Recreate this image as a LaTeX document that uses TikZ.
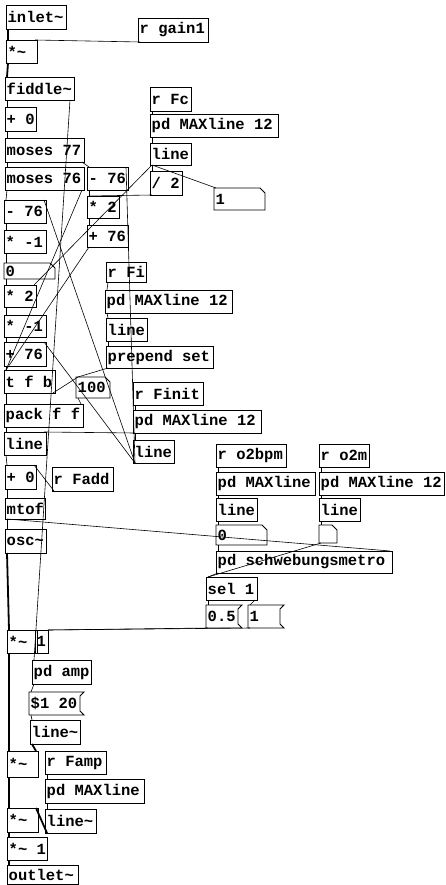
\documentclass[tikz,border=0pt]{standalone}
\usepackage{fontspec}
\newfontfamily\pdfont{Liberation Mono}
\tikzset{
  pdbox/.style={draw, line width=0.9pt, inner sep=0pt, outer sep=0pt, anchor=north west},
  pdtext/.style={anchor=west, inner sep=1.5pt, font=\pdfont\bfseries\fontsize{15.5}{16}\selectfont},
  boxline/.style={line width=0.9pt},
  wire/.style={line width=0.6pt},
  sig/.style={line width=1.8pt},
}
% object box: name, x1, y1, x2, y2, text
\newcommand\pdobj[6]{%
  \node[pdbox, minimum width={(#4-#2)*1pt}, minimum height={(#5-#3)*1pt}] (#1) at (#2,#3) {};
  \node[pdtext] at (#1.west) {#6};}
% message box (flag on the right)
\newcommand\pdmsg[6]{%
  \node[pdbox, draw=none, minimum width={(#4-#2)*1pt}, minimum height={(#5-#3)*1pt}] (#1) at (#2,#3) {};
  \draw[boxline] (#1.north west) -- ([xshift=4pt]#1.north east) -- ([yshift=-4pt]#1.north east)
    -- ([yshift=4pt]#1.south east) -- ([xshift=4pt]#1.south east) -- (#1.south west) -- cycle;
  \node[pdtext] at (#1.west) {#6};}
% number box (notched corner)
\newcommand\pdnum[6]{%
  \node[pdbox, draw=none, minimum width={(#4-#2)*1pt}, minimum height={(#5-#3)*1pt}] (#1) at (#2,#3) {};
  \draw[boxline] (#1.north west) -- ([xshift=-5pt]#1.north east) -- ([yshift=-5pt]#1.north east)
    -- (#1.south east) -- (#1.south west) -- cycle;
  \node[pdtext] at (#1.west) {#6};}
\begin{document}
\begin{tikzpicture}[x=1pt, y=-1pt]
  \useasboundingbox (0,0) rectangle (446,885);
  % input and pitch tracking
  \pdobj{inl}{6}{5}{66}{29}{inlet\textasciitilde}
  \pdobj{gain}{138}{18}{208}{42}{r gain1}
  \pdobj{mul1}{6}{40}{37}{63}{*\textasciitilde}
  \pdobj{fid}{5}{77}{74}{100}{fiddle\textasciitilde}
  \pdobj{add0}{5}{107}{36}{131}{+ 0}
  \pdobj{mos77}{5}{138}{84}{162}{moses 77}
  \pdobj{mos76}{5}{167}{84}{190}{moses 76}
  \pdobj{subR}{87}{167}{128}{190}{- 76}
  \pdobj{mulR}{87}{196}{119}{218}{* 2}
  \pdobj{addR}{87}{225}{128}{247}{+ 76}
  % left column
  \pdobj{subL}{4}{200}{46}{223}{- 76}
  \pdobj{negA}{4}{230}{46}{253}{* -1}
  \pdnum{numzero}{4}{263}{55}{279}{0}
  \pdobj{mulL}{4}{285}{36}{307}{* 2}
  \pdobj{negB}{4}{315}{46}{337}{* -1}
  \pdobj{addL}{4}{342}{46}{366}{+ 76}
  \pdobj{tfb}{4}{370}{55}{393}{t f b}
  \pdnum{num100}{76}{377}{110}{398}{100}
  \pdobj{pack}{4}{404}{83}{427}{pack f f}
  \pdobj{lnL}{4}{432}{46}{455}{line}
  \pdobj{addF}{5}{465}{36}{489}{+ 0}
  \pdobj{rfadd}{52}{467}{113}{491}{r Fadd}
  \pdobj{mtof}{5}{498}{45}{519}{mtof}
  \pdobj{osc}{5}{529}{46}{553}{osc\textasciitilde}
  % receivers with MAXline
  \pdobj{rfc}{150}{87}{191}{111}{r Fc}
  \pdobj{mlfc}{150}{114}{278}{137}{pd MAXline 12}
  \pdobj{lnfc}{150}{143}{191}{165}{line}
  \pdobj{div}{150}{171}{182}{195}{/ 2}
  \pdnum{numone}{214}{188}{265}{210}{1}
  \pdobj{rfi}{106}{262}{146}{282}{r Fi}
  \pdobj{mlfi}{105}{290}{232}{313}{pd MAXline 12}
  \pdobj{lnfi}{106}{318}{147}{341}{line}
  \pdobj{prep}{106}{346}{213}{368}{prepend set}
  \pdobj{rfin}{133}{382}{203}{405}{r Finit}
  \pdobj{mlfin}{133}{410}{261}{433}{pd MAXline 12}
  \pdobj{lnfin}{133}{440}{174}{463}{line}
  % beat metronome
  \pdobj{rbpm}{216}{444}{286}{467}{r o2bpm}
  \pdobj{ro2m}{319}{444}{369}{467}{r o2m}
  \pdobj{mlbpm}{216}{472}{315}{495}{pd MAXline}
  \pdobj{mlo2m}{319}{472}{444}{495}{pd MAXline 12}
  \pdobj{lnbpm}{216}{498}{257}{521}{line}
  \pdobj{lno2m}{319}{498}{360}{521}{line}
  \pdnum{numbpm}{216}{525}{267}{545}{0}
  \pdnum{numo2m}{319}{525}{337}{543}{}
  \pdobj{schw}{216}{551}{392}{573}{pd schwebungsmetro}
  \pdobj{sel}{206}{577}{257}{600}{sel 1}
  \pdmsg{mhalf}{206}{605}{238}{628}{0.5}
  \pdmsg{mone}{248}{605}{280}{628}{1}
  % amplitude chain
  \pdobj{mulA}{7}{630}{37}{653}{*\textasciitilde}
  \pdobj{one}{35}{630}{48}{653}{1}
  \pdobj{amp}{32}{660}{91}{684}{pd amp}
  \pdmsg{msgamp}{29}{692}{80}{715}{\$1 20}
  \pdobj{lnamp}{30}{720}{80}{744}{line\textasciitilde}
  \pdobj{mulB}{7}{751}{38}{777}{*\textasciitilde}
  \pdobj{rfamp}{45}{751}{106}{774}{r Famp}
  \pdobj{mlamp}{45}{779}{144}{803}{pd MAXline}
  \pdobj{mulC}{7}{808}{38}{832}{*\textasciitilde}
  \pdobj{lnsig}{45}{809}{96}{833}{line\textasciitilde}
  \pdobj{mulD}{7}{837}{47}{860}{*\textasciitilde{} 1}
  \pdobj{outl}{7}{865}{78}{884}{outlet\textasciitilde}
  % straight control connections, left outlet to left inlet
  \foreach \a/\b in {fid/add0, add0/mos77, mos77/mos76, mos76/subL, subL/negA, negA/numzero,
      numzero/mulL, mulL/negB, negB/addL, addL/tfb, tfb/pack, pack/lnL, lnL/addF, addF/mtof,
      mtof/osc, subR/mulR, mulR/addR, rfc/mlfc, mlfc/lnfc, lnfc/div, rfi/mlfi, mlfi/lnfi,
      lnfi/prep, rfin/mlfin, mlfin/lnfin, rbpm/mlbpm, mlbpm/lnbpm, lnbpm/numbpm, numbpm/schw,
      ro2m/mlo2m, mlo2m/lno2m, lno2m/numo2m, schw/sel, sel/mhalf, amp/msgamp, msgamp/lnamp,
      rfamp/mlamp, mlamp/lnsig}
    \draw[wire] ([xshift=2pt]\a.south west) -- ([xshift=2pt]\b.north west);
  % signal connections
  \foreach \a/\b in {inl/mul1, mul1/fid, osc/mulA, mulA/mulB, mulB/mulC, mulC/mulD, mulD/outl}
    \draw[sig] ([xshift=2pt]\a.south west) -- ([xshift=2pt]\b.north west);
  \draw[sig] ([xshift=2pt]lnamp.south west) -- ([xshift=-2pt]mulB.north east);
  \draw[sig] ([xshift=2pt]lnsig.south west) -- ([xshift=-2pt]mulC.north east);
  % crossing control connections
  \draw[wire] ([xshift=2pt]gain.south west) -- ([xshift=-2pt]mul1.north east);
  \draw[wire] ([xshift=-4pt]fid.south east) -- ([xshift=2pt]amp.north west);
  \draw[wire] ([xshift=-2pt]mos77.south east) -- ([xshift=2pt]subR.north west);
  \draw[wire] ([xshift=-2pt]mos76.south east) -- ([xshift=2pt]tfb.north west);
  \draw[wire] ([xshift=2pt]addR.south west) -- ([xshift=2pt]tfb.north west);
  \draw[wire] ([xshift=2pt]lnfc.south west) -- ([xshift=-2pt]mulL.north east);
  \draw[wire] ([xshift=2pt]lnfc.south west) -- ([xshift=2pt]numone.north west);
  \draw[wire] ([xshift=2pt]div.south west) -- ([xshift=2pt]mulR.north west);
  \draw[wire] ([xshift=2pt]prep.south west) -- ([xshift=2pt]num100.north west);
  \draw[wire] ([xshift=-2pt]tfb.south east) -- ([xshift=2pt]num100.north west);
  \draw[wire] ([xshift=2pt]num100.south west) -- ([xshift=-2pt]pack.north east);
  \draw[wire] ([xshift=2pt]rfadd.south west) -- ([xshift=-2pt]addF.north east);
  \draw[wire] ([xshift=2pt]mlfin.south west) -- ([xshift=-2pt]lnL.north east);
  \foreach \b in {subL, addL, subR}
    \draw[wire] ([xshift=2pt]lnfin.south west) -- ([xshift=-2pt]\b.north east);
  \draw[wire] ([xshift=2pt]mtof.south west) -- ([xshift=-2pt]schw.north east);
  \draw[wire] ([xshift=2pt]numo2m.south west) -- ([xshift=2pt]sel.north west);
  \draw[wire] ([xshift=-2pt]sel.south east) -- ([xshift=2pt]mone.north west);
  \foreach \a in {mhalf, mone}
    \draw[wire] ([xshift=2pt]\a.south west) -- (one.north east);
\end{tikzpicture}
\end{document}
